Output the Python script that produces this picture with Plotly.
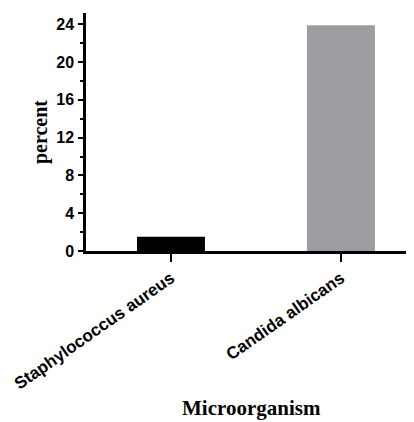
import plotly.graph_objects as go

categories = ["Staphylococcus aureus", "Candida albicans"]
values = [1.5, 23.9]
bar_colors = ["#000000", "#9d9ca1"]
y_ticks = [0, 4, 8, 12, 16, 20, 24]

fig = go.Figure()
fig.add_trace(go.Bar(
    x=categories, y=values, width=0.4,
    marker=dict(color=bar_colors, line=dict(width=0)),
))

# page body has an 8px margin, so the figure is offset by 8px
fig.update_layout(
    width=406, height=414,
    margin=dict(l=78, r=0, t=5, b=171),
    paper_bgcolor="white", plot_bgcolor="white",
    showlegend=False,
    font=dict(family="Liberation Sans, Arial", color="black"),
)
fig.update_xaxes(
    range=[-0.5, 1.43],
    showline=True, linecolor="black", linewidth=2.5,
    ticks="outside", ticklen=8, tickwidth=2, tickcolor="black",
    tickangle=-35,
    tickfont=dict(family="Liberation Sans, Arial", size=17, weight="bold", color="black"),
    showgrid=False, zeroline=False,
)
fig.update_yaxes(
    range=[0, 25.2],
    tickvals=y_ticks,
    showline=True, linecolor="black", linewidth=2.5,
    ticks="outside", ticklen=5, tickwidth=2, tickcolor="black",
    minor=dict(dtick=2, ticks="outside", ticklen=3, tickwidth=2, tickcolor="black"),
    tickfont=dict(family="Liberation Sans, Arial", size=16, weight="bold", color="black"),
    ticklabelstandoff=1,
    showgrid=False, zeroline=False,
)
fig.add_annotation(
    text="percent", textangle=-90,
    xref="paper", yref="paper", x=-0.14, y=0.5,
    xanchor="center", yanchor="middle", showarrow=False,
    font=dict(family="Liberation Serif, Times New Roman", size=20, weight="bold", color="black"),
)
fig.add_annotation(
    text="Microorganism",
    xref="paper", yref="paper", x=0.506, y=0,
    yshift=-157, xanchor="center", yanchor="middle", showarrow=False,
    font=dict(family="Liberation Serif, Times New Roman", size=21, weight="bold", color="black"),
)

fig.write_html("out.html")
